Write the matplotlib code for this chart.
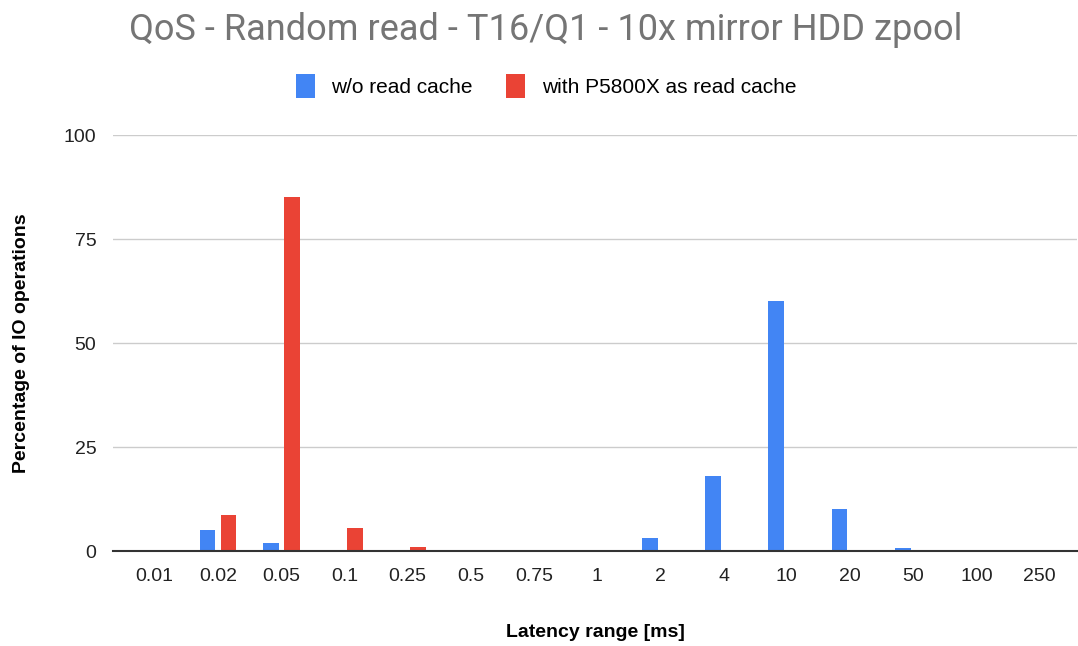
import matplotlib.pyplot as plt
import numpy as np

plt.rcParams['font.family'] = ['Liberation Sans', 'DejaVu Sans']

latency = ['0.01', '0.02', '0.05', '0.1', '0.25', '0.5', '0.75', '1', '2', '4',
           '10', '20', '50', '100', '250']
no_cache = [0, 5.0, 1.9, 0, 0, 0, 0, 0, 3.1, 18.0, 60.0, 10.1, 0.7, 0, 0]
p5800x = [0, 8.6, 85.0, 5.5, 1.0, 0, 0, 0, 0, 0, 0, 0, 0, 0, 0]

blue = '#4285F4'
red = '#EA4335'

fig = plt.figure(figsize=(10.78, 6.46), dpi=100)
ax = fig.add_axes([113/1078, 1 - 551/646, (1077-113)/1078, (551-135)/646])

x = np.arange(len(latency))
w = 0.25
ax.bar(x - 0.166, no_cache, w, color=blue, label='w/o read cache', zorder=3)
ax.bar(x + 0.166, p5800x, w, color=red, label='with P5800X as read cache', zorder=3)

ax.set_xlim(-0.66, 14.59)
ax.set_ylim(0, 100)
ax.set_yticks([0, 25, 50, 75, 100])
ax.set_xticks(x)
ax.set_xticklabels(latency)
ax.tick_params(axis='both', length=0, labelsize=14, colors='#222222', pad=12)
ax.tick_params(axis='x', pad=12)
ax.yaxis.grid(True, color='#cccccc', linewidth=1, zorder=0)
for s in ['top', 'right', 'left']:
    ax.spines[s].set_visible(False)
ax.spines['bottom'].set_color('#333333')
ax.spines['bottom'].set_linewidth(1.5)
ax.spines['bottom'].set_zorder(4)

ax.set_xlabel('Latency range [ms]', fontsize=14, fontweight='bold', labelpad=28)
ax.set_ylabel('Percentage of IO operations', fontsize=14, fontweight='bold', labelpad=24)

fig.text(546/1078, 1 - 30/646, 'QoS - Random read - T16/Q1 - 10x mirror HDD zpool',
         ha='center', va='center', fontsize=26, color='#757575',
         family=['Roboto', 'DejaVu Sans'])
fig.legend(loc='center', bbox_to_anchor=(546/1078, 1 - 86/646), ncol=2, frameon=False,
           fontsize=15, handlelength=0.9, handleheight=1.4, handletextpad=0.8,
           columnspacing=1.6)

fig.savefig('out.png', dpi=100)
